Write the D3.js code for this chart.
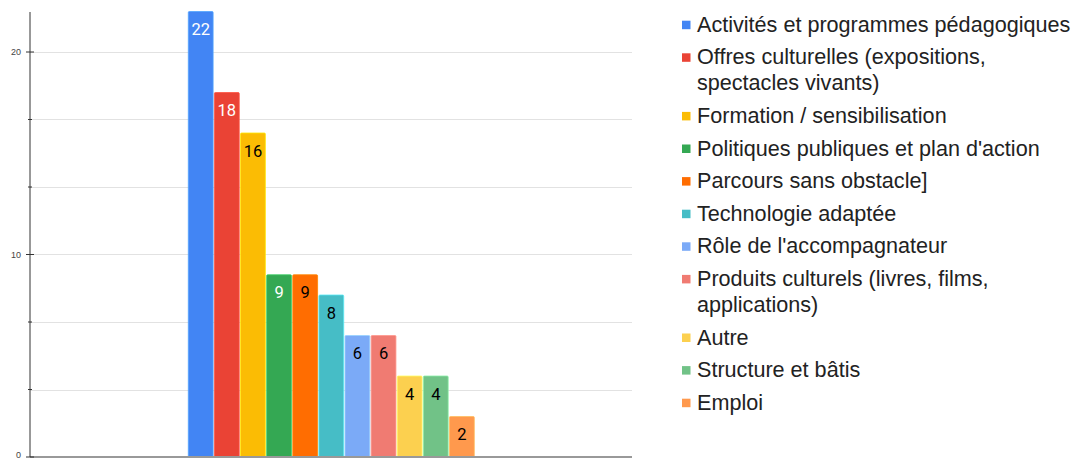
<!DOCTYPE html>
<html>
<head>
<meta charset="utf-8">
<script src="https://cdn.jsdelivr.net/npm/d3@7"></script>
<style>
  body { margin: 0; background: #fff; }
  svg { display: block; }
</style>
</head>
<body>
<svg width="1074" height="459"></svg>
<script>
const categories = [
  "Activités et programmes pédagogiques",
  "Offres culturelles (expositions, spectacles vivants)",
  "Formation / sensibilisation",
  "Politiques publiques et plan d'action",
  "Parcours sans obstacle]",
  "Technologie adaptée",
  "Rôle de l'accompagnateur",
  "Produits culturels (livres, films, applications)",
  "Autre",
  "Structure et bâtis",
  "Emploi"
];
const values = [22, 18, 16, 9, 9, 8, 6, 6, 4, 4, 2];
const colors = ["#4285f4", "#ea4335", "#fbbc04", "#34a853", "#ff6d01", "#46bdc6",
                "#7baaf7", "#f07b72", "#fcd04f", "#71c287", "#ff994d"];
const labelColors = ["#fff", "#fff", "#000", "#fff", "#000", "#000",
                     "#000", "#000", "#000", "#000", "#000"];
const majorTicks = [0, 10, 20];
const minorTicks = [10 / 3, 20 / 3, 40 / 3, 50 / 3];

const sansFont = "'Liberation Sans', Arial, Helvetica, sans-serif";

const svg = d3.select('svg');

const plot = {left: 30, right: 632, top: 12, bottom: 457};

const y = d3.scaleLinear().domain([0, 22]).range([plot.bottom, 11.5]);

const x = d3.scaleBand()
            .domain(categories)
            .range([188.3, 474.3])
            .paddingInner(0.05)
            .paddingOuter(0);

// gridlines
svg.append('g')
   .selectAll('line')
   .data(majorTicks.concat(minorTicks).filter(d => d > 0))
   .enter()
   .append('line')
   .attr('x1', plot.left)
   .attr('x2', plot.right)
   .attr('y1', d => Math.round(y(d)) + 0.5)
   .attr('y2', d => Math.round(y(d)) + 0.5)
   .attr('stroke', '#e2e2e2')
   .attr('stroke-width', 1);

// bars
const bars = svg.selectAll('.bar')
                .data(categories)
                .enter()
                .append('g')
                .attr('class', 'bar');

bars.append('rect')
    .attr('x', d => x(d))
    .attr('y', (d, i) => y(values[i]))
    .attr('width', x.bandwidth())
    .attr('height', (d, i) => y(0) - y(values[i]))
    .attr('rx', 1)
    .attr('fill', (d, i) => colors[i])
    .attr('stroke', (d, i) => d3.color(colors[i]).brighter(0.6))
    .attr('stroke-width', 0.8);

bars.append('text')
    .attr('x', d => x(d) + x.bandwidth() / 2)
    .attr('y', (d, i) => y(values[i]) + 23.5)
    .attr('text-anchor', 'middle')
    .attr('font-family', 'Roboto, sans-serif')
    .attr('font-size', 16.5)
    .attr('fill', (d, i) => labelColors[i])
    .text((d, i) => values[i]);

// baseline
svg.append('line')
   .attr('x1', plot.left)
   .attr('x2', plot.right)
   .attr('y1', plot.bottom)
   .attr('y2', plot.bottom)
   .attr('stroke', '#999')
   .attr('stroke-width', 2);

// y axis
const axis = svg.append('g').attr('transform', `translate(${plot.left},0)`);
axis.append('line')
    .attr('y1', plot.top)
    .attr('y2', plot.bottom)
    .attr('stroke', '#333')
    .attr('stroke-width', 1);
axis.selectAll('.major')
    .data(majorTicks)
    .enter()
    .append('line')
    .attr('x1', -4)
    .attr('x2', 4)
    .attr('y1', d => y(d))
    .attr('y2', d => y(d))
    .attr('stroke', '#333');
axis.selectAll('.minor')
    .data(minorTicks)
    .enter()
    .append('line')
    .attr('x1', -2)
    .attr('x2', 2)
    .attr('y1', d => y(d))
    .attr('y2', d => y(d))
    .attr('stroke', '#333');
axis.selectAll('.lbl')
    .data(majorTicks)
    .enter()
    .append('text')
    .attr('x', -9)
    .attr('y', d => Math.min(y(d) + 3, 458))
    .attr('text-anchor', 'end')
    .attr('font-family', sansFont)
    .attr('font-size', 9)
    .attr('fill', '#444')
    .text(d => d);

// legend
const legend = svg.append('g').attr('transform', 'translate(682,0)');
const maxW = 377;
let baseY = 31.7;
categories.forEach((name, i) => {
  const item = legend.append('g');
  item.append('rect')
      .attr('x', 0)
      .attr('y', baseY - 11)
      .attr('width', 8.5)
      .attr('height', 8.5)
      .attr('fill', colors[i]);
  const text = item.append('text')
      .attr('x', 15)
      .attr('y', baseY)
      .attr('font-family', sansFont)
      .attr('font-size', 21.6)
      .attr('fill', '#222');
  const words = name.split(' ');
  let line = [];
  let lines = 0;
  let tspan = text.append('tspan').attr('x', 15).attr('y', baseY);
  words.forEach(w => {
    line.push(w);
    tspan.text(line.join(' '));
    if (tspan.node().getComputedTextLength() > maxW && line.length > 1) {
      line.pop();
      tspan.text(line.join(' '));
      line = [w];
      lines++;
      tspan = text.append('tspan').attr('x', 15).attr('y', baseY + lines * 26).text(w);
    }
  });
  baseY += 32.6 + lines * 26;
});
</script>
</body>
</html>
